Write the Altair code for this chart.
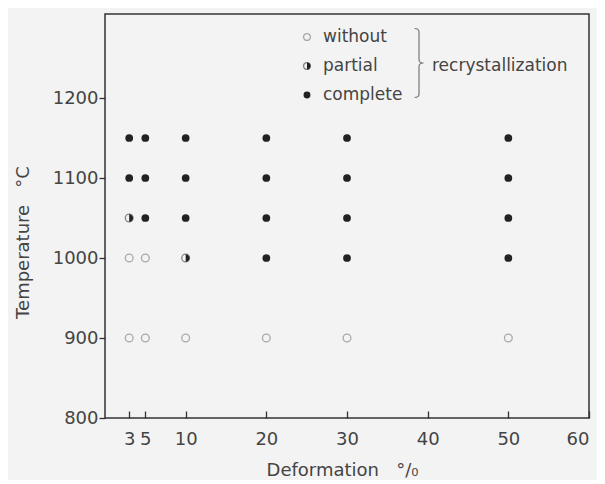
import altair as alt
import pandas as pd

# ---- data ----
deformation = [3, 5, 10, 20, 30, 50]
temperature = [1150, 1100, 1050, 1000, 900]
state_1150 = ["complete", "complete", "complete", "complete", "complete", "complete"]
state_1100 = ["complete", "complete", "complete", "complete", "complete", "complete"]
state_1050 = ["partial", "complete", "complete", "complete", "complete", "complete"]
state_1000 = ["without", "without", "partial", "complete", "complete", "complete"]
state_900 = ["without", "without", "without", "without", "without", "without"]
x_ticks = [3, 5, 10, 20, 30, 40, 50, 60]
y_ticks = [800, 900, 1000, 1100, 1200]
legend_labels = ["without", "partial", "complete"]
group_label = "recrystallization"
x_title = "Deformation\u00a0\u00a0\u00a0°/₀"
y_title = "Temperature\u00a0\u00a0\u00a0°C"

states = [state_1150, state_1100, state_1050, state_1000, state_900]
rows = []
for t, st in zip(temperature, states):
    for d, s in zip(deformation, st):
        rows.append({"deformation": d, "temperature": t, "state": s})
df = pd.DataFrame(rows)

FONT = "DejaVu Sans"
INK = "#222222"
RING = "#8a8a8a"
HALF = "M0,-1 A1,1 0 0,1 0,1 Z"
BRACE = "M-0.13,-1 Q0,-1 0,-0.9 L0,-0.1 Q0,0 0.13,0 Q0,0 0,0.1 L0,0.9 Q0,1 -0.13,1"
SIZE = 60

xscale = alt.Scale(domain=[0, 60], nice=False, zero=False)
yscale = alt.Scale(domain=[800, 1305], nice=False, zero=False)

x_main = alt.X("deformation:Q", scale=xscale,
               axis=alt.Axis(orient="bottom", values=x_ticks, ticks=False, domain=False,
                             grid=False, labelPadding=12, labelFontSize=18,
                             labelColor="#444", labelFont=FONT, format="d",
                             title=x_title,
                             titleFont=FONT, titleFontSize=18, titleFontWeight="normal",
                             titleColor="#444", titlePadding=13, titleX=237))
y_main = alt.Y("temperature:Q", scale=yscale,
               axis=alt.Axis(orient="left", values=y_ticks, tickSize=6, tickColor="#333",
                             tickWidth=1.3, domain=False, grid=False, labelPadding=1,
                             labelFontSize=18, labelColor="#444", labelFont=FONT,
                             format="d",
                             title=y_title, titleFont=FONT, titleFontSize=18,
                             titleFontWeight="normal", titleColor="#444",
                             titlePadding=20, titleY=228))
x_plain = alt.X("deformation:Q", scale=xscale, axis=None)

open_pts = alt.Chart(df).transform_filter(alt.datum.state == "without").mark_point(
    shape="circle", filled=False, size=SIZE, stroke=RING, strokeWidth=1.3
).encode(x=x_main, y=y_main)

partial_ring = alt.Chart(df).transform_filter(alt.datum.state == "partial").mark_point(
    shape="circle", filled=False, size=SIZE, stroke="#555", strokeWidth=1.3
).encode(x=x_plain, y=y_main)

partial_half = alt.Chart(df).transform_filter(alt.datum.state == "partial").mark_point(
    shape=HALF, filled=True, size=SIZE, color=INK, opacity=1
).encode(x=x_plain, y=y_main)

full_pts = alt.Chart(df).transform_filter(alt.datum.state == "complete").mark_point(
    shape="circle", filled=True, size=SIZE, color=INK, opacity=1
).encode(x=x_plain, y=y_main)

# inward x ticks
tick_df = pd.DataFrame({"deformation": x_ticks})
tick_layer = alt.Chart(tick_df).mark_rule(opacity=0).encode(
    x=alt.X("deformation:Q", scale=xscale,
            axis=alt.Axis(orient="bottom", values=x_ticks, ticks=True, tickSize=7,
                          tickColor="#333", tickWidth=1.3, labels=False, domain=False,
                          grid=False, title=None, offset=-7))
)

# legend (annotation, pixel placement)
leg_x, txt_x = 202, 218
leg_y = [23, 52, 81]
legend_layers = []
one = pd.DataFrame({"k": [0]})
for lab, yy in zip(legend_labels, leg_y):
    if lab == "without":
        legend_layers.append(alt.Chart(one).mark_point(
            shape="circle", filled=False, size=SIZE - 12, stroke=RING, strokeWidth=1.3
        ).encode(x=alt.value(leg_x), y=alt.value(yy)))
    elif lab == "partial":
        legend_layers.append(alt.Chart(one).mark_point(
            shape="circle", filled=False, size=SIZE - 12, stroke="#555", strokeWidth=1.3
        ).encode(x=alt.value(leg_x), y=alt.value(yy)))
        legend_layers.append(alt.Chart(one).mark_point(
            shape=HALF, filled=True, size=SIZE - 12, color=INK, opacity=1
        ).encode(x=alt.value(leg_x), y=alt.value(yy)))
    else:
        legend_layers.append(alt.Chart(one).mark_point(
            shape="circle", filled=True, size=SIZE - 12, color=INK, opacity=1
        ).encode(x=alt.value(leg_x), y=alt.value(yy)))
    legend_layers.append(alt.Chart(one).mark_text(
        text=lab, align="left", baseline="middle", font=FONT, fontSize=17, color="#444"
    ).encode(x=alt.value(txt_x), y=alt.value(yy)))

legend_layers.append(alt.Chart(one).mark_point(
    shape=BRACE, filled=False, size=69 * 69, stroke="#444", strokeWidth=1.2
).encode(x=alt.value(314), y=alt.value(49)))
legend_layers.append(alt.Chart(one).mark_text(
    text=group_label, align="left", baseline="middle", font=FONT, fontSize=17, color="#444"
).encode(x=alt.value(327), y=alt.value(52)))

chart = alt.layer(
    open_pts, partial_ring, partial_half, full_pts, tick_layer, *legend_layers
).resolve_axis(x="independent").properties(
    width=484, height=404,
    autosize=alt.AutoSizeParams(type="none"),
    padding={"left": 97, "top": 6, "right": 8, "bottom": 62},
    background="#f3f3f3",
).configure_view(stroke="#333", strokeWidth=1.5)

chart.save("out.html", embed_options={"renderer": "svg", "actions": False})
